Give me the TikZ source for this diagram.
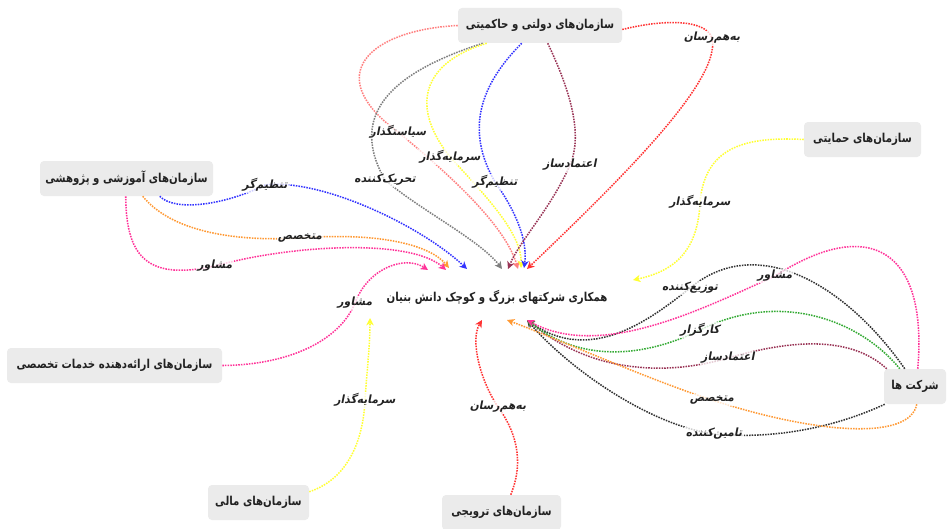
\documentclass[tikz,border=0pt]{standalone}
\usepackage{fontspec}
\usetikzlibrary{arrows.meta,calc}
\TeXXeTstate=1
\newfontfamily\arfont[Script=Arabic,FakeStretch=0.83]{DejaVu Sans}
\newfontfamily\arslant[Script=Arabic,FakeSlant=0.2,FakeStretch=0.95]{DejaVu Sans}
\definecolor{cSalmon}{HTML}{FF7F7F}
\definecolor{cRed}{HTML}{FF3333}
\definecolor{cGray}{HTML}{7F7F7F}
\definecolor{cYellow}{HTML}{FFFF33}
\definecolor{cBlue}{HTML}{3333FF}
\definecolor{cMaroon}{HTML}{993355}
\definecolor{cOrange}{HTML}{FF9933}
\definecolor{cPink}{HTML}{FF3399}
\definecolor{cBlack}{HTML}{333333}
\definecolor{cGreen}{HTML}{33AA33}
\definecolor{cBox}{HTML}{EBEBEB}
\definecolor{cText}{HTML}{222222}
\tikzset{
  box/.style={fill=cBox, rounded corners=3pt, minimum height=26.25pt, inner sep=0pt,
    font=\arfont\bfseries\fontsize{9.2}{11}\selectfont, text=cText},
  lbl/.style={font=\arslant\bfseries\fontsize{8.5}{10}\selectfont, text=cText, inner sep=1pt,
    fill=white, fill opacity=0.75, text opacity=1},
  link/.style={line width=1.15pt, dash pattern=on 1.15pt off 0.85pt,
    -{Stealth[length=5.5pt,width=5.5pt,inset=1.6pt]}}
}
\begin{document}
\begin{tikzpicture}[x=0.75pt,y=-0.75pt]
\useasboundingbox (0,0) rectangle (948,528);
\fill[white] (0,0) rectangle (948,528);

% nodes
\node[box, minimum width=123pt] (gov) at (540,25.5) {\beginR سازمان‌های دولتی و حاکمیتی\endR};
\node[box, minimum width=129.75pt] (edu) at (126.5,178.5) {\beginR سازمان‌های آموزشی و پژوهشی\endR};
\node[box, minimum width=87.75pt] (hem) at (862.5,139.5) {\beginR سازمان‌های حمایتی\endR};
\node[box, minimum width=46.5pt] (co) at (915,386.5) {\beginR شرکت ها\endR};
\node[box, minimum width=161.25pt] (srv) at (114.5,365.5) {\beginR سازمان‌های ارائه‌دهنده خدمات تخصصی\endR};
\node[box, minimum width=75.75pt] (fin) at (258.5,502.5) {\beginR سازمان‌های مالی\endR};
\node[box, minimum width=89.25pt] (pro) at (501.5,512.5) {\beginR سازمان‌های ترویجی\endR};
\node[font=\arfont\bfseries\fontsize{9.2}{11}\selectfont, text=cText] (ctr) at (497,297) {\beginR همکاری شرکتهای بزرگ و کوچک دانش بنیان\endR};

% arrow end points
\coordinate (a1) at (428,270);
\coordinate (a2) at (446,270);
\coordinate (a3) at (449,268);
\coordinate (a4) at (467,269);
\coordinate (a5) at (502,269);
\coordinate (a6) at (508,269);
\coordinate (a7) at (518,269);
\coordinate (a8) at (521,268);
\coordinate (a9) at (524,268);
\coordinate (a10) at (527,269);
\coordinate (b1) at (482,320);
\coordinate (b2) at (507,320);
\coordinate (b3) at (527,320);
\coordinate (b4) at (633,280);
\coordinate (b5) at (370,318);

% government edges
\draw[link, cSalmon] (gov.west) .. controls (370,30) and (320,75) .. (398,132) node[lbl]{\beginR سیاستگذار\endR} .. controls (450,175) and (505,225) .. (a7);
\draw[link, cGray] ($(gov.south west)+(25,0)$) .. controls (400,70) and (345,110) .. (385,180) node[lbl]{\beginR تحریک‌کننده\endR} .. controls (420,210) and (480,240) .. (a5);
\draw[link, cYellow] ($(gov.south west)+(29,0)$) .. controls (430,60) and (405,100) .. (450,157) node[lbl]{\beginR سرمایه‌گذار\endR} .. controls (490,200) and (522,235) .. (a8);
\draw[link, cBlue] ($(gov.south west)+(64,0)$) .. controls (480,85) and (465,130) .. (495,182) node[lbl]{\beginR تنظیم‌گر\endR} .. controls (515,210) and (528,240) .. (a9);
\draw[link, cMaroon] ($(gov.south west)+(90,0)$) .. controls (565,80) and (585,130) .. (570,165) node[lbl]{\beginR اعتمادساز\endR} .. controls (550,210) and (520,240) .. (a6);
\draw[link, cRed] ($(gov.east)+(0,4)$) .. controls (660,20) and (705,18) .. (712,38) node[lbl]{\beginR به‌هم‌رسان\endR} .. controls (722,80) and (620,180) .. (a10);

% education edges
\draw[link, cBlue] ($(edu.south west)+(120,0)$) .. controls (175,212) and (225,205) .. (265,185) node[lbl]{\beginR تنظیم‌گر\endR} .. controls (320,178) and (420,225) .. (a4);
\draw[link, cOrange] ($(edu.south west)+(103,0)$) .. controls (170,230) and (230,242) .. (300,238) node[lbl]{\beginR متخصص\endR} .. controls (380,232) and (430,245) .. (a3);
\draw[link, cPink] ($(edu.south west)+(86,0)$) .. controls (126,260) and (150,280) .. (215,266) node[lbl]{\beginR مشاور\endR} .. controls (290,245) and (410,238) .. (a2);

% services
\draw[link, cPink] (srv.east) .. controls (290,365) and (340,340) .. (355,303) node[lbl]{\beginR مشاور\endR} .. controls (368,268) and (405,255) .. (a1);

% support
\draw[link, cYellow] (hem.west) .. controls (740,136) and (705,150) .. (700,202) node[lbl]{\beginR سرمایه‌گذار\endR} .. controls (698,255) and (670,272) .. (b4);

% finance
\draw[link, cYellow] ($(fin.north east)+(0,7)$) .. controls (345,480) and (363,445) .. (365,400) node[lbl]{\beginR سرمایه‌گذار\endR} .. controls (367,370) and (370,345) .. (b5);

% promotion
\draw[link, cRed] ($(pro.north west)+(69,0)$) .. controls (525,460) and (515,430) .. (498,407) node[lbl]{\beginR به‌هم‌رسان\endR} .. controls (480,380) and (470,340) .. (b1);

% companies
\draw[link, cBlack] ($(co.south west)+(1,0)$) .. controls (840,425) and (780,440) .. (714,434) node[lbl]{\beginR تامین‌کننده\endR} .. controls (650,425) and (570,370) .. (b3);
\draw[link, cBlack] ($(co.north west)+(21,0)$) .. controls (850,290) and (760,230) .. (690,288) node[lbl]{\beginR توزیع‌کننده\endR} .. controls (650,320) and (590,365) .. (b3);
\draw[link, cMaroon] ($(co.north west)+(3,0)$) .. controls (850,335) and (790,340) .. (728,358) node[lbl]{\beginR اعتمادساز\endR} .. controls (680,372) and (600,380) .. (b3);
\draw[link, cGreen] ($(co.north west)+(16,0)$) .. controls (860,320) and (780,290) .. (700,330) node[lbl]{\beginR کارگزار\endR} .. controls (660,350) and (590,370) .. (b3);
\draw[link, cOrange] ($(co.south west)+(33,0)$) .. controls (910,440) and (820,435) .. (712,400) node[lbl]{\beginR متخصص\endR} .. controls (650,380) and (560,340) .. (b2);
\draw[link, cPink] ($(co.north west)+(34,0)$) .. controls (928,250) and (870,215) .. (775,276) node[lbl]{\beginR مشاور\endR} .. controls (700,310) and (600,360) .. (b3);
\end{tikzpicture}
\end{document}
